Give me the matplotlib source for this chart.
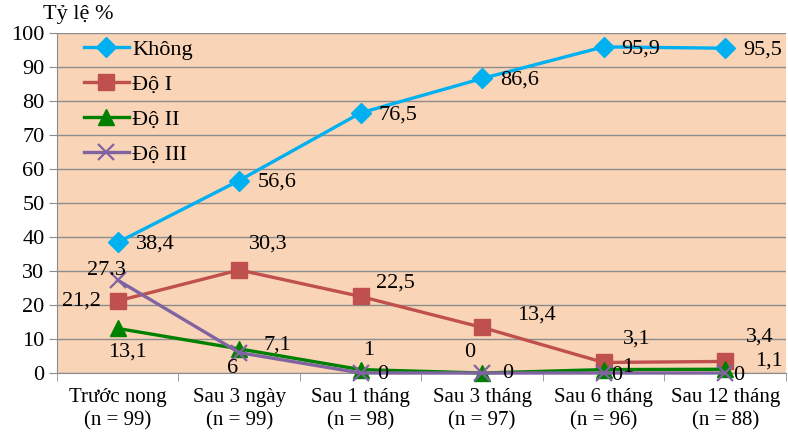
import matplotlib.pyplot as plt
from matplotlib.ticker import FixedLocator, NullFormatter

plt.rcParams['font.family'] = ['Liberation Serif', 'DejaVu Serif']

categories = ["Trước nong\n(n = 99)", "Sau 3 ngày\n(n = 99)", "Sau 1 tháng\n(n = 98)",
              "Sau 3 tháng\n(n = 97)", "Sau 6 tháng\n(n = 96)", "Sau 12 tháng\n(n = 88)"]

khong = [38.4, 56.6, 76.5, 86.6, 95.9, 95.5]
do1 = [21.2, 30.3, 22.5, 13.4, 3.1, 3.4]
do2 = [13.1, 7.1, 1, 0, 1, 1.1]
do3 = [27.3, 6, 0, 0, 0, 0]

khong_lbl = ["38,4", "56,6", "76,5", "86,6", "95,9", "95,5"]
do1_lbl = ["21,2", "30,3", "22,5", "13,4", "3,1", "3,4"]
do2_lbl = ["13,1", "7,1", "1", "0", "1", "1,1"]
do3_lbl = ["27.3", "6", "0", "0", "0", "0"]

x = range(len(categories))
FS = 16

fig = plt.figure(figsize=(7.88, 4.36), dpi=100)
ax = fig.add_axes([0.0723, 0.1445, 0.925, 0.78])
ax.set_facecolor("#FAD4B6")

series = [
    ("Không", khong, khong_lbl, "#00B0F0", "D", 10),
    ("Độ I", do1, do1_lbl, "#C0504D", "s", 12),
    ("Độ II", do2, do2_lbl, "#008000", "^", 12),
    ("Độ III", do3, do3_lbl, "#8064A2", "x", 12),
]
for name, vals, _, col, mk, ms in series:
    ax.plot(x, vals, color=col, lw=2.4, marker=mk, ms=ms, mew=1.6 if mk == "x" else 1,
            label=name, clip_on=False, zorder=3)

# label offsets in pixels (dx, dy) and alignment
offsets = {
    "Không": [(18, -2, "left")] * 6,
    "Độ I": [(-17, 0, "right"), (10, 26, "left"), (15, 13, "left"),
             (35, 12, "left"), (19, 23, "left"), (21, 24, "left")],
    "Độ II": [(10, -24, "center"), (24, 4, "left"), (8, 19, "center"),
              (-12, 20, "center"), (18, 2, "left"), (30, 8, "left")],
    "Độ III": [(-11, 10, "center"), (-7, -16, "center"), (16, -2, "left"),
               (20, -1, "left"), (7, -3, "left"), (8, -3, "left")],
}
for name, vals, lbls, _, _, _ in series:
    for i, (v, t) in enumerate(zip(vals, lbls)):
        dx, dy, ha = offsets[name][i]
        ax.annotate(t, (i, v), xytext=(dx, dy), textcoords="offset pixels",
                    ha=ha, va="center", fontsize=FS, zorder=4)

ax.set_xlim(-0.5, 5.5)
ax.set_ylim(0, 100)
ax.set_yticks(range(0, 101, 10))
ax.yaxis.grid(True, color="#8C8C8C", lw=1)
ax.set_axisbelow(True)
ax.set_xticks(list(x))
ax.set_xticklabels(categories, fontsize=15, linespacing=1.3)
ax.tick_params(axis="x", length=0, pad=11)
ax.xaxis.set_minor_locator(FixedLocator([i + 0.5 for i in range(-1, 6)]))
ax.xaxis.set_minor_formatter(NullFormatter())
ax.tick_params(axis="x", which="minor", length=6, color="#8C8C8C")
ax.tick_params(axis="y", labelsize=FS, length=6, color="#8C8C8C", pad=3)
for s in ["top", "right"]:
    ax.spines[s].set_visible(False)
for s in ["left", "bottom"]:
    ax.spines[s].set_color("#8C8C8C")

fig.text(0.054, 0.966, "Tỷ lệ %", fontsize=FS, va="center", ha="left")

ax.legend(loc="upper left", bbox_to_anchor=(0.01, 1.04), frameon=False, fontsize=FS,
          handlelength=2.0, labelspacing=0.65, handletextpad=0.15)

fig.savefig("out.png", dpi=100)
